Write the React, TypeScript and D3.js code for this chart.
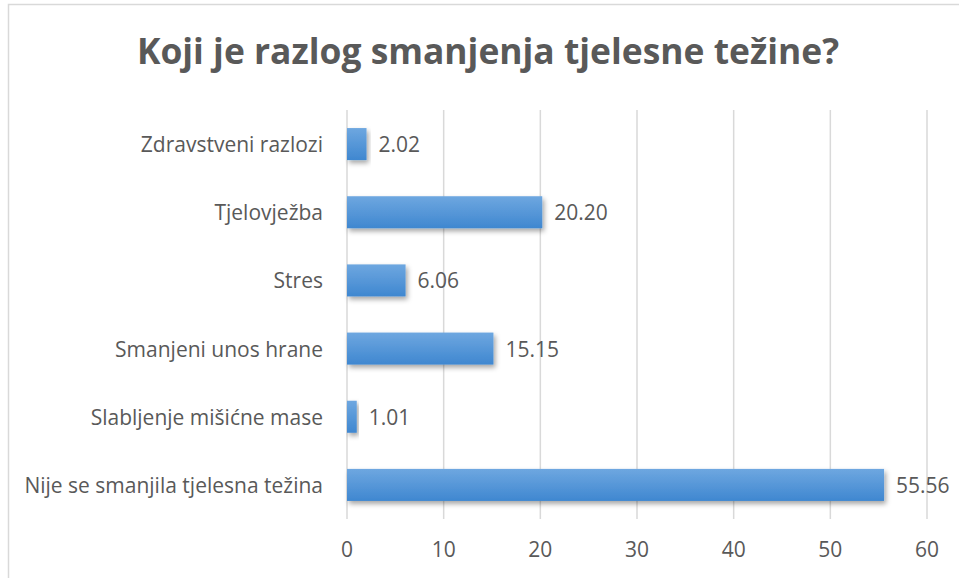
import React from "react";
import * as d3 from "d3";

const WIDTH = 959;
const HEIGHT = 578;
const PLOT = { left: 347, right: 927, top: 110, bottom: 519 };

const categories = [
  "Zdravstveni razlozi",
  "Tjelovježba",
  "Stres",
  "Smanjeni unos hrane",
  "Slabljenje mišićne mase",
  "Nije se smanjila tjelesna težina",
];
const values = [2.02, 20.2, 6.06, 15.15, 1.01, 55.56];
const ticks = [0, 10, 20, 30, 40, 50, 60];
const TITLE = "Koji je razlog smanjenja tjelesne težine?";

const FONT = "'Open Sans', 'Liberation Sans', sans-serif";
const TEXT = "#595959";

export default function App() {
  const x = d3.scaleLinear().domain([0, 60]).range([PLOT.left, PLOT.right]);
  const y = d3
    .scaleBand<string>()
    .domain(categories)
    .range([PLOT.top, PLOT.bottom])
    .paddingInner(0.53)
    .paddingOuter(0.265);

  return (
    <svg
      width={WIDTH}
      height={HEIGHT}
      style={{ position: "absolute", left: 0, top: 0, background: "#fff" }}
    >
      <defs>
        <linearGradient id="barFill" x1="0" y1="0" x2="0" y2="1">
          <stop offset="0%" stopColor="#6ea7e0" />
          <stop offset="100%" stopColor="#3f87d0" />
        </linearGradient>
        <filter id="shadow" x="-10%" y="-30%" width="130%" height="180%">
          <feDropShadow dx="2" dy="3" stdDeviation="2.5" floodColor="#000" floodOpacity="0.35" />
        </filter>
      </defs>

      <rect x={8.5} y={4.5} width={WIDTH} height={HEIGHT} fill="#fff" stroke="#d9d9d9" strokeWidth={1.5} />

      <text
        x={488}
        y={64}
        textAnchor="middle"
        fontFamily={FONT}
        fontWeight="bold"
        fontSize={35.4}
        fill={TEXT}
      >
        {TITLE}
      </text>

      {ticks.map(t => (
        <g key={t}>
          <line x1={x(t)} x2={x(t)} y1={PLOT.top} y2={PLOT.bottom} stroke="#d9d9d9" strokeWidth={1.5} />
          <text
            x={x(t)}
            y={549}
            textAnchor="middle"
            dominantBaseline="central"
            fontFamily={FONT}
            fontSize={21}
            fill={TEXT}
          >
            {t}
          </text>
        </g>
      ))}

      {categories.map((c, i) => {
        const cy = (y(c) as number) + y.bandwidth() / 2;
        return (
          <g key={c}>
            <rect
              x={x(0)}
              y={y(c)}
              width={x(values[i]) - x(0)}
              height={y.bandwidth()}
              fill="url(#barFill)"
              filter="url(#shadow)"
            />
            <text
              x={323}
              y={cy}
              textAnchor="end"
              dominantBaseline="central"
              fontFamily={FONT}
              fontSize={21}
              fill={TEXT}
            >
              {c}
            </text>
            <text
              x={x(values[i]) + 12}
              y={cy}
              dominantBaseline="central"
              fontFamily={FONT}
              fontSize={21}
              fill={TEXT}
            >
              {values[i].toFixed(2)}
            </text>
          </g>
        );
      })}
    </svg>
  );
}
